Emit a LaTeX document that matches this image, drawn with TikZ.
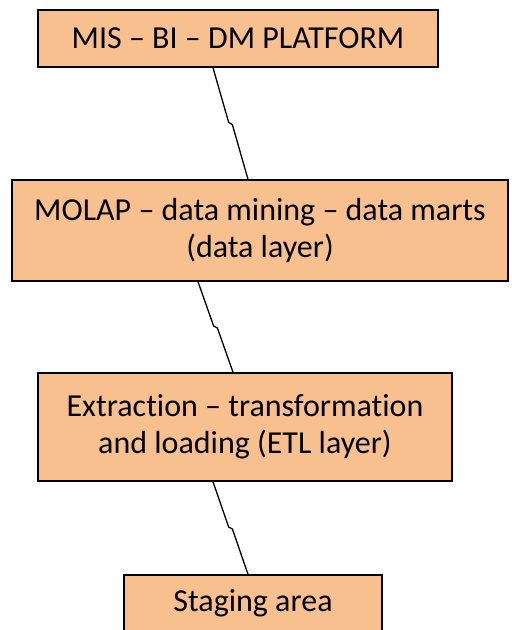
\documentclass[tikz,border=0pt]{standalone}
\usepackage{fontspec}
\setmainfont{Carlito}[Ligatures=NoCommon]
\usetikzlibrary{calc}
\definecolor{boxfill}{RGB}{249,192,143}

\begin{document}
\begin{tikzpicture}[x=0.5pt,y=-0.5pt]

\tikzset{layer/.style = {shape=rectangle,draw,fill=boxfill,line width=0.75pt,
  align=center,inner sep=0pt,font=\fontsize{16}{18.5}\selectfont}}
\tikzset{link/.style = {line width=0.65pt}}

\useasboundingbox (0,0) rectangle (512,630);

\node[layer,minimum width=200pt,minimum height=28.5pt] (mis) at (238,38.5) {MIS -- BI -- DM PLATFORM};
\node[layer,minimum width=248pt,minimum height=50.5pt] (molap) at (260,230.5) {MOLAP -- data mining -- data marts\\(data layer)};
\node[layer,minimum width=207pt,minimum height=54pt] (etl) at (245,427) {Extraction -- transformation\\and loading (ETL layer)};
\node[layer,minimum width=129pt,minimum height=28.5pt] (staging) at (253,603.5) {Staging area};

% connectors with a small jog halfway
\draw[link] ($(mis.south)+(-25,0)$) -- ($($(mis.south)+(-25,0)$)!0.49!($(molap.north)+(-12,0)$)+(-1.5,0)$)
  -- ($($(mis.south)+(-25,0)$)!0.51!($(molap.north)+(-12,0)$)+(1.5,0)$) -- ($(molap.north)+(-12,0)$);
\draw[link] ($(molap.south)+(-62,0)$) -- ($($(molap.south)+(-62,0)$)!0.49!($(etl.north)+(-12,0)$)+(-1.5,0)$)
  -- ($($(molap.south)+(-62,0)$)!0.51!($(etl.north)+(-12,0)$)+(1.5,0)$) -- ($(etl.north)+(-12,0)$);
\draw[link] ($(etl.south)+(-32,0)$) -- ($($(etl.south)+(-32,0)$)!0.49!($(staging.north)+(-5,0)$)+(-1.5,0)$)
  -- ($($(etl.south)+(-32,0)$)!0.51!($(staging.north)+(-5,0)$)+(1.5,0)$) -- ($(staging.north)+(-5,0)$);

\end{tikzpicture}
\end{document}
